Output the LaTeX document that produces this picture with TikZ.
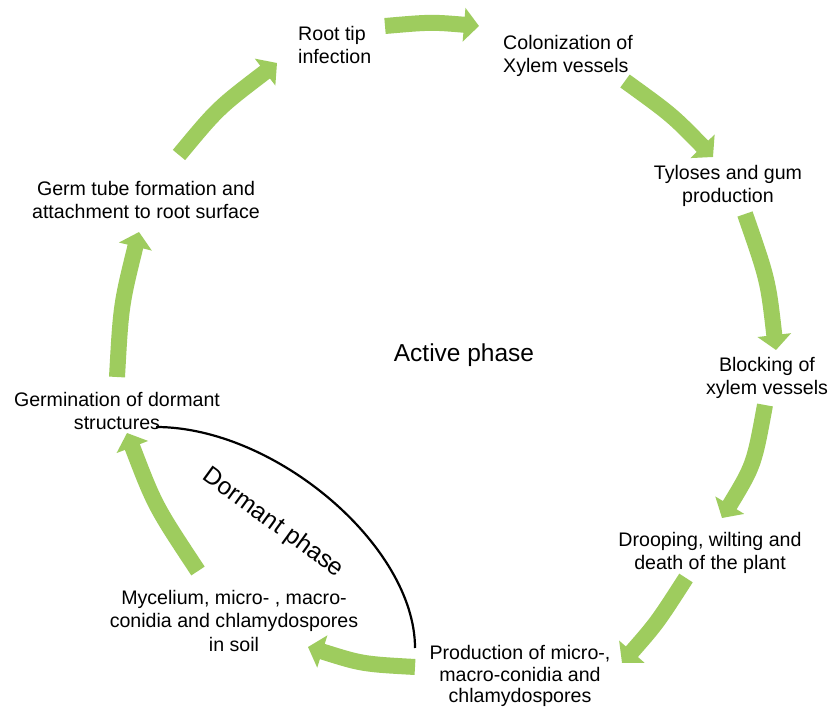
\documentclass[tikz,border=0pt]{standalone}
\usepackage{fontspec}
\setmainfont{Liberation Sans}
\usetikzlibrary{arrows.meta}
\definecolor{leaf}{RGB}{158,204,94}
\begin{document}
\begin{tikzpicture}[x=1pt,y=-1pt,
  lbl/.style={inner sep=0pt, font=\fontsize{19.6}{23.3}\selectfont, align=center},
  tight/.style={font=\fontsize{19.6}{21.6}\selectfont},
  phase/.style={inner sep=0pt, font=\fontsize{24.5}{29}\selectfont},
  cyc/.style={draw=leaf, line width=16pt, -{Triangle[width=33pt,length=15pt]}},
  dorm/.style={draw=black, line width=2.2pt}]
\useasboundingbox[fill=white] (0,0) rectangle (831,709);

% labels
\node[lbl, align=left, anchor=north west] (root) at (298,26) {Root tip\\infection};
\node[lbl, align=left, anchor=north west] (colon) at (503,35) {Colonization of\\Xylem vessels};
\node[lbl, anchor=north] (tylo) at (728,165) {Tyloses and gum\\production};
\node[lbl, anchor=north] (block) at (767,357) {Blocking of\\xylem vessels};
\node[lbl, anchor=north] (droop) at (710,532) {Drooping, wilting and\\death of the plant};
\node[lbl, tight, anchor=north] (prod) at (520,645) {Production of micro-,\\macro-conidia and\\chlamydospores};
\node[lbl, anchor=north] (myc) at (234,590) {Mycelium, micro- , macro-\\conidia and chlamydospores\\in soil};
\node[lbl, anchor=north] (germ) at (117,392) {Germination of dormant\\structures};
\node[lbl, anchor=north] (tube) at (146,181) {Germ tube formation and\\attachment to root surface};
\node[phase] (act) at (464,355) {Active phase};
\node[phase, rotate=-36] (dph) at (273,523) {Dormant phase};

% arrow ends
\coordinate (a1t) at (385,26);  \coordinate (a1h) at (479,26);
\coordinate (a2t) at (625,81);  \coordinate (a2h) at (713,157);
\coordinate (a3t) at (745,214); \coordinate (a3h) at (776,350);
\coordinate (a4t) at (765,405); \coordinate (a4h) at (722,518);
\coordinate (a5t) at (686,578); \coordinate (a5h) at (622,663);
\coordinate (a6t) at (415,667); \coordinate (a6h) at (308,647);
\coordinate (a7t) at (198,571); \coordinate (a7h) at (127,433);
\coordinate (a8t) at (117,377); \coordinate (a8h) at (139,232);
\coordinate (a9t) at (179,155); \coordinate (a9h) at (277,63);

\draw[cyc] (a1t) .. controls (431,22) .. (a1h);
\draw[cyc] (a2t) .. controls (672,115) .. (a2h);
\draw[cyc] (a3t) .. controls (768,280) .. (a3h);
\draw[cyc] (a4t) .. controls (754,465) .. (a4h);
\draw[cyc] (a5t) .. controls (657,623) .. (a5h);
\draw[cyc] (a6t) .. controls (362,664) .. (a6h);
\draw[cyc] (a7t) .. controls (155,506) .. (a7h);
\draw[cyc] (a8t) .. controls (121,305) .. (a8h);
\draw[cyc] (a9t) .. controls (218,108) .. (a9h);

% dormant boundary
\coordinate (d1) at (156,427);
\coordinate (d2) at (415,648);
\draw[dorm] (d1) .. controls (275,427) and (415,546) .. (d2);
\end{tikzpicture}
\end{document}
